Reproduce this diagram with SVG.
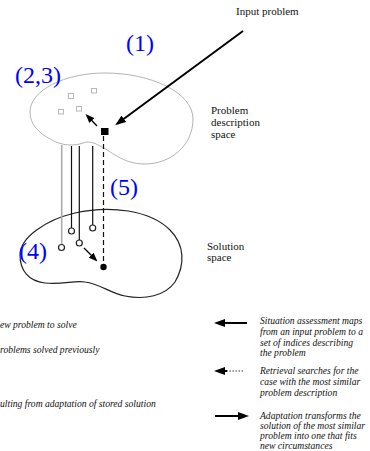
<svg xmlns="http://www.w3.org/2000/svg" width="370" height="451" viewBox="0 0 370 451">
<style>
.lbl{font-family:"Liberation Serif","Times New Roman",serif;font-size:24px;fill:#0000ff}
.cap{font-family:"Liberation Serif","Times New Roman",serif;font-size:11px;fill:#111}
.leg{font-family:"Liberation Serif","Times New Roman",serif;font-size:9.6px;font-style:italic;fill:#111}
.sq{fill:none;stroke:#b8b8b8;stroke-width:1}
.circ{fill:#fff;stroke:#222;stroke-width:1.2}
</style>
<defs>
<marker id="ah" markerUnits="userSpaceOnUse" markerWidth="11" markerHeight="8" refX="8" refY="4" orient="auto">
<path d="M0,0 L11,4 L0,8 z" fill="#000"/>
</marker>
<marker id="ahs" markerUnits="userSpaceOnUse" markerWidth="9" markerHeight="7" refX="7" refY="3.5" orient="auto">
<path d="M0,0 L9,3.5 L0,7 z" fill="#000"/>
</marker>
</defs>
<rect width="370" height="451" fill="#fff"/>

<g id="problem-space">
<path d="M30,112 C30,90 65,73 105,73 C150,73 193,92 193,119 C193,146 170,164 145,164 C122,164 110,150 100,146 C93,142 88,141 83,143 C75,146 62,146 52,140 C38,133 30,124 30,112 Z" fill="none" stroke="#b4b4b4" stroke-width="1"/>
<rect class="sq" x="68.5" y="93.5" width="5" height="5"/>
<rect class="sq" x="91.5" y="88.5" width="5" height="4.5"/>
<rect class="sq" x="58.5" y="109.5" width="5" height="4.5"/>
<rect class="sq" x="76.5" y="106.5" width="5" height="4.5"/>
<rect x="101" y="128" width="7.5" height="7" fill="#000"/>
<text class="cap" x="211" y="114">Problem</text>
<text class="cap" x="211" y="126">description</text>
<text class="cap" x="211" y="138">space</text>
</g>

<g id="solution-space">
<path d="M20,255 C20,238 45,220 75,213 C110,205 150,210 170,230 C185,245 185,265 175,282 C165,296 145,300 125,296 C110,293 100,284 85,282 C75,280 62,285 45,283 C28,281 20,270 20,255 Z" fill="none" stroke="#222" stroke-width="1.2"/>
<text class="cap" x="207" y="250">Solution</text>
<text class="cap" x="207" y="261">space</text>
</g>

<g id="input">
<text class="cap" x="236" y="15">Input problem</text>
</g>

<g id="labels">
<text class="lbl" x="126" y="51">(1)</text>
<text class="lbl" x="15" y="83">(2,3)</text>
<text class="lbl" x="110" y="195">(5)</text>
<text class="lbl" x="19" y="259">(4)</text>
</g>

<g id="connectors">
<line x1="243" y1="31" x2="117.5" y2="123.5" stroke="#000" stroke-width="2" marker-end="url(#ah)"/>
<line x1="97" y1="126" x2="87" y2="115.5" stroke="#000" stroke-width="1.3" marker-end="url(#ahs)"/>
<line x1="61.7" y1="145" x2="61.7" y2="244" stroke="#aaa" stroke-width="1.6"/>
<line x1="71.5" y1="146" x2="71.5" y2="228" stroke="#111" stroke-width="1.2"/>
<line x1="79.3" y1="146" x2="79.3" y2="240" stroke="#111" stroke-width="1.2"/>
<line x1="92.7" y1="146" x2="92.7" y2="225" stroke="#111" stroke-width="1.2"/>
<line x1="103.5" y1="136" x2="103.5" y2="266" stroke="#111" stroke-width="1.2" stroke-dasharray="5 3"/>
<line x1="84" y1="248" x2="96" y2="260" stroke="#000" stroke-width="1.3" marker-end="url(#ahs)"/>
</g>

<g id="points">
<circle class="circ" cx="61.5" cy="247.5" r="3"/>
<circle class="circ" cx="71.5" cy="231" r="3"/>
<circle class="circ" cx="79.3" cy="243" r="3"/>
<circle class="circ" cx="92.7" cy="228" r="3"/>
<circle cx="103.5" cy="267" r="3.2" fill="#000"/>
</g>

<g id="legend-left">
<text class="leg" x="0" y="328">ew problem to solve</text>
<text class="leg" x="0" y="353">roblems solved previously</text>
<text class="leg" x="0" y="407">ulting from adaptation of stored solution</text>
</g>

<g id="legend-right">
<line x1="247" y1="323" x2="217" y2="323" stroke="#000" stroke-width="2" marker-end="url(#ah)"/>
<text class="leg" x="260" y="324">Situation assessment maps</text>
<text class="leg" x="260" y="335">from an input problem to a</text>
<text class="leg" x="260" y="346">set of indices describing</text>
<text class="leg" x="260" y="356">the problem</text>
<line x1="243" y1="371" x2="227" y2="371" stroke="#000" stroke-width="0.8" stroke-dasharray="1.5 1.5"/>
<line x1="227" y1="371" x2="217" y2="371" stroke="#000" stroke-width="2" marker-end="url(#ah)"/>
<text class="leg" x="260" y="374">Retrieval searches for the</text>
<text class="leg" x="260" y="385">case with the most similar</text>
<text class="leg" x="260" y="396">problem description</text>
<line x1="215" y1="416" x2="246" y2="416" stroke="#000" stroke-width="2" marker-end="url(#ah)"/>
<text class="leg" x="260" y="419">Adaptation transforms the</text>
<text class="leg" x="260" y="429">solution of the most similar</text>
<text class="leg" x="260" y="439">problem into one that fits</text>
<text class="leg" x="260" y="449">new circumstances</text>
</g>
</svg>
